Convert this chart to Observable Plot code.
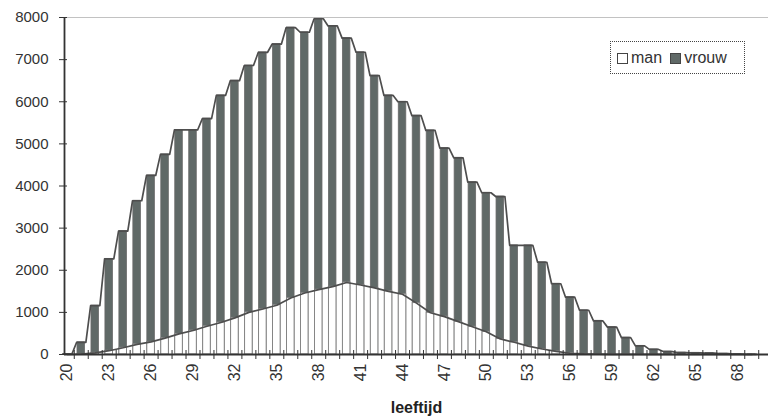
<!DOCTYPE html>
<html>
<head>
<meta charset="utf-8">
<script src="https://cdn.jsdelivr.net/npm/d3@7"></script>
<script src="https://cdn.jsdelivr.net/npm/@observablehq/plot@0.6"></script>
<style>
  html, body { margin: 0; padding: 0; background: #fff; }
  #wrap { position: relative; width: 768px; height: 417px; font-family: "Liberation Sans", Arial, sans-serif; }
  #legend { position: absolute; left: 610px; top: 41px; width: 135px; height: 33px; border: 1.5px dotted #444;
            display: flex; align-items: center; gap: 8px; padding-left: 6px; box-sizing: border-box; font-size: 16px; color: #333; }
  #legend .sw { display: inline-block; width: 9px; height: 9px; border: 1.5px solid #444; margin-right: 3px; vertical-align: -1px; }
  #legend .item { white-space: nowrap; }
</style>
</head>
<body>
<div id="wrap"></div>
<script>
// categories: age (leeftijd)
const ages = [20,21,22,23,24,25,26,27,28,29,30,31,32,33,34,35,36,37,38,39,40,41,42,43,44,45,46,47,48,49,50,51,52,53,54,55,56,57,58,59,60,61,62,63,64,65,66,67,68,69];
// series: vrouw (tall columns) and man (front columns)
const vrouw = [10,290,1160,2270,2930,3650,4250,4750,5330,5330,
               5600,6150,6500,6860,7170,7370,7760,7650,7970,7800,
               7510,7175,6620,6150,6000,5670,5320,4900,4670,4090,
               3840,3750,2590,2590,2190,1680,1360,1050,800,650,
               400,205,120,70,45,40,35,20,8,3];
const man = [0,10,40,90,160,240,300,390,490,570,
             670,760,870,1000,1080,1170,1340,1460,1540,1610,
             1710,1650,1580,1500,1430,1220,990,900,780,660,
             540,370,290,200,130,75,30,15,10,5,
             3,2,1,1,0,0,0,0,0,0];
// tick labels
const labelAges = [20,23,26,29,32,35,38,41,44,47,50,53,56,59,62,65,68];
const yTicks = [0,1000,2000,3000,4000,5000,6000,7000,8000];

const series = [{name: "man", fill: "#ffffff"}, {name: "vrouw", fill: "#606967"}];

const table = ages.map((a, i) => ({age: a, man: man[i], vrouw: vrouw[i]}));
const outline = table.flatMap(d => [{x: d.age - 0.33, y: d.vrouw}, {x: d.age + 0.33, y: d.vrouw}]);
const boundaries = ages.map(a => a + 0.5);
const xDomain = [ages[0] - 0.2, ages[ages.length - 1] + 1.2];
const hw = 0.27;

const chart = Plot.plot({
  width: 768,
  height: 417,
  marginLeft: 64,
  marginRight: 0,
  marginTop: 17,
  marginBottom: 63,
  style: {fontFamily: "'Liberation Sans', Arial, sans-serif", fontSize: "15px", color: "#333", background: "#fff"},
  x: {type: "linear", domain: xDomain},
  y: {domain: [0, 8000]},
  marks: [
    Plot.ruleY([8000], {stroke: "#c2c2c2", strokeWidth: 1.2}),
    Plot.rect(table, {x1: d => d.age - hw, x2: d => d.age + hw, y1: d => 0, y2: "vrouw", fill: series[1].fill, stroke: "#6a6a6a", strokeWidth: 0.8}),
    Plot.rect(table, {x1: d => d.age - hw, x2: d => d.age + hw, y1: d => 0, y2: "man", fill: series[0].fill, stroke: "#808080", strokeWidth: 0.9}),
    Plot.line(outline, {x: "x", y: "y", stroke: "#4e4e4e", strokeWidth: 1.7}),
    Plot.line(table, {x: "age", y: "man", stroke: "#4e4e4e", strokeWidth: 1.7}),
    Plot.ruleY([0], {stroke: "#333", strokeWidth: 1.8}),
    Plot.ruleX([xDomain[0]], {stroke: "#333", strokeWidth: 1.8}),
    Plot.axisY({ticks: yTicks, tickSize: 5, tickPadding: 11, tickFormat: d => String(d), label: null, stroke: "#333"}),
    Plot.axisY({ticks: yTicks, tickSize: -3, tickFormat: () => "", label: null, stroke: "#333"}),
    Plot.axisX({ticks: boundaries, tickSize: 5, tickFormat: () => "", label: null, stroke: "#333"}),
    Plot.axisX({ticks: boundaries, tickSize: -4, tickFormat: () => "", label: null, stroke: "#333"}),
    Plot.axisX({ticks: labelAges, tickSize: 0, tickPadding: 9, tickRotate: -90, fontSize: 16, tickFormat: d => String(d), label: null, fill: "#333"}),
    Plot.axisX({ticks: [], label: "leeftijd", labelAnchor: "center", labelArrow: "none", labelOffset: 58, fontWeight: "bold", fontSize: 16, fill: "#222"})
  ]
});

const wrap = document.getElementById("wrap");
wrap.appendChild(chart);

const legend = document.createElement("div");
legend.id = "legend";
series.forEach(s => {
  const item = document.createElement("span");
  item.className = "item";
  const sw = document.createElement("span");
  sw.className = "sw";
  sw.style.background = s.fill;
  item.appendChild(sw);
  item.appendChild(document.createTextNode(s.name));
  legend.appendChild(item);
});
wrap.appendChild(legend);
</script>
</body>
</html>
